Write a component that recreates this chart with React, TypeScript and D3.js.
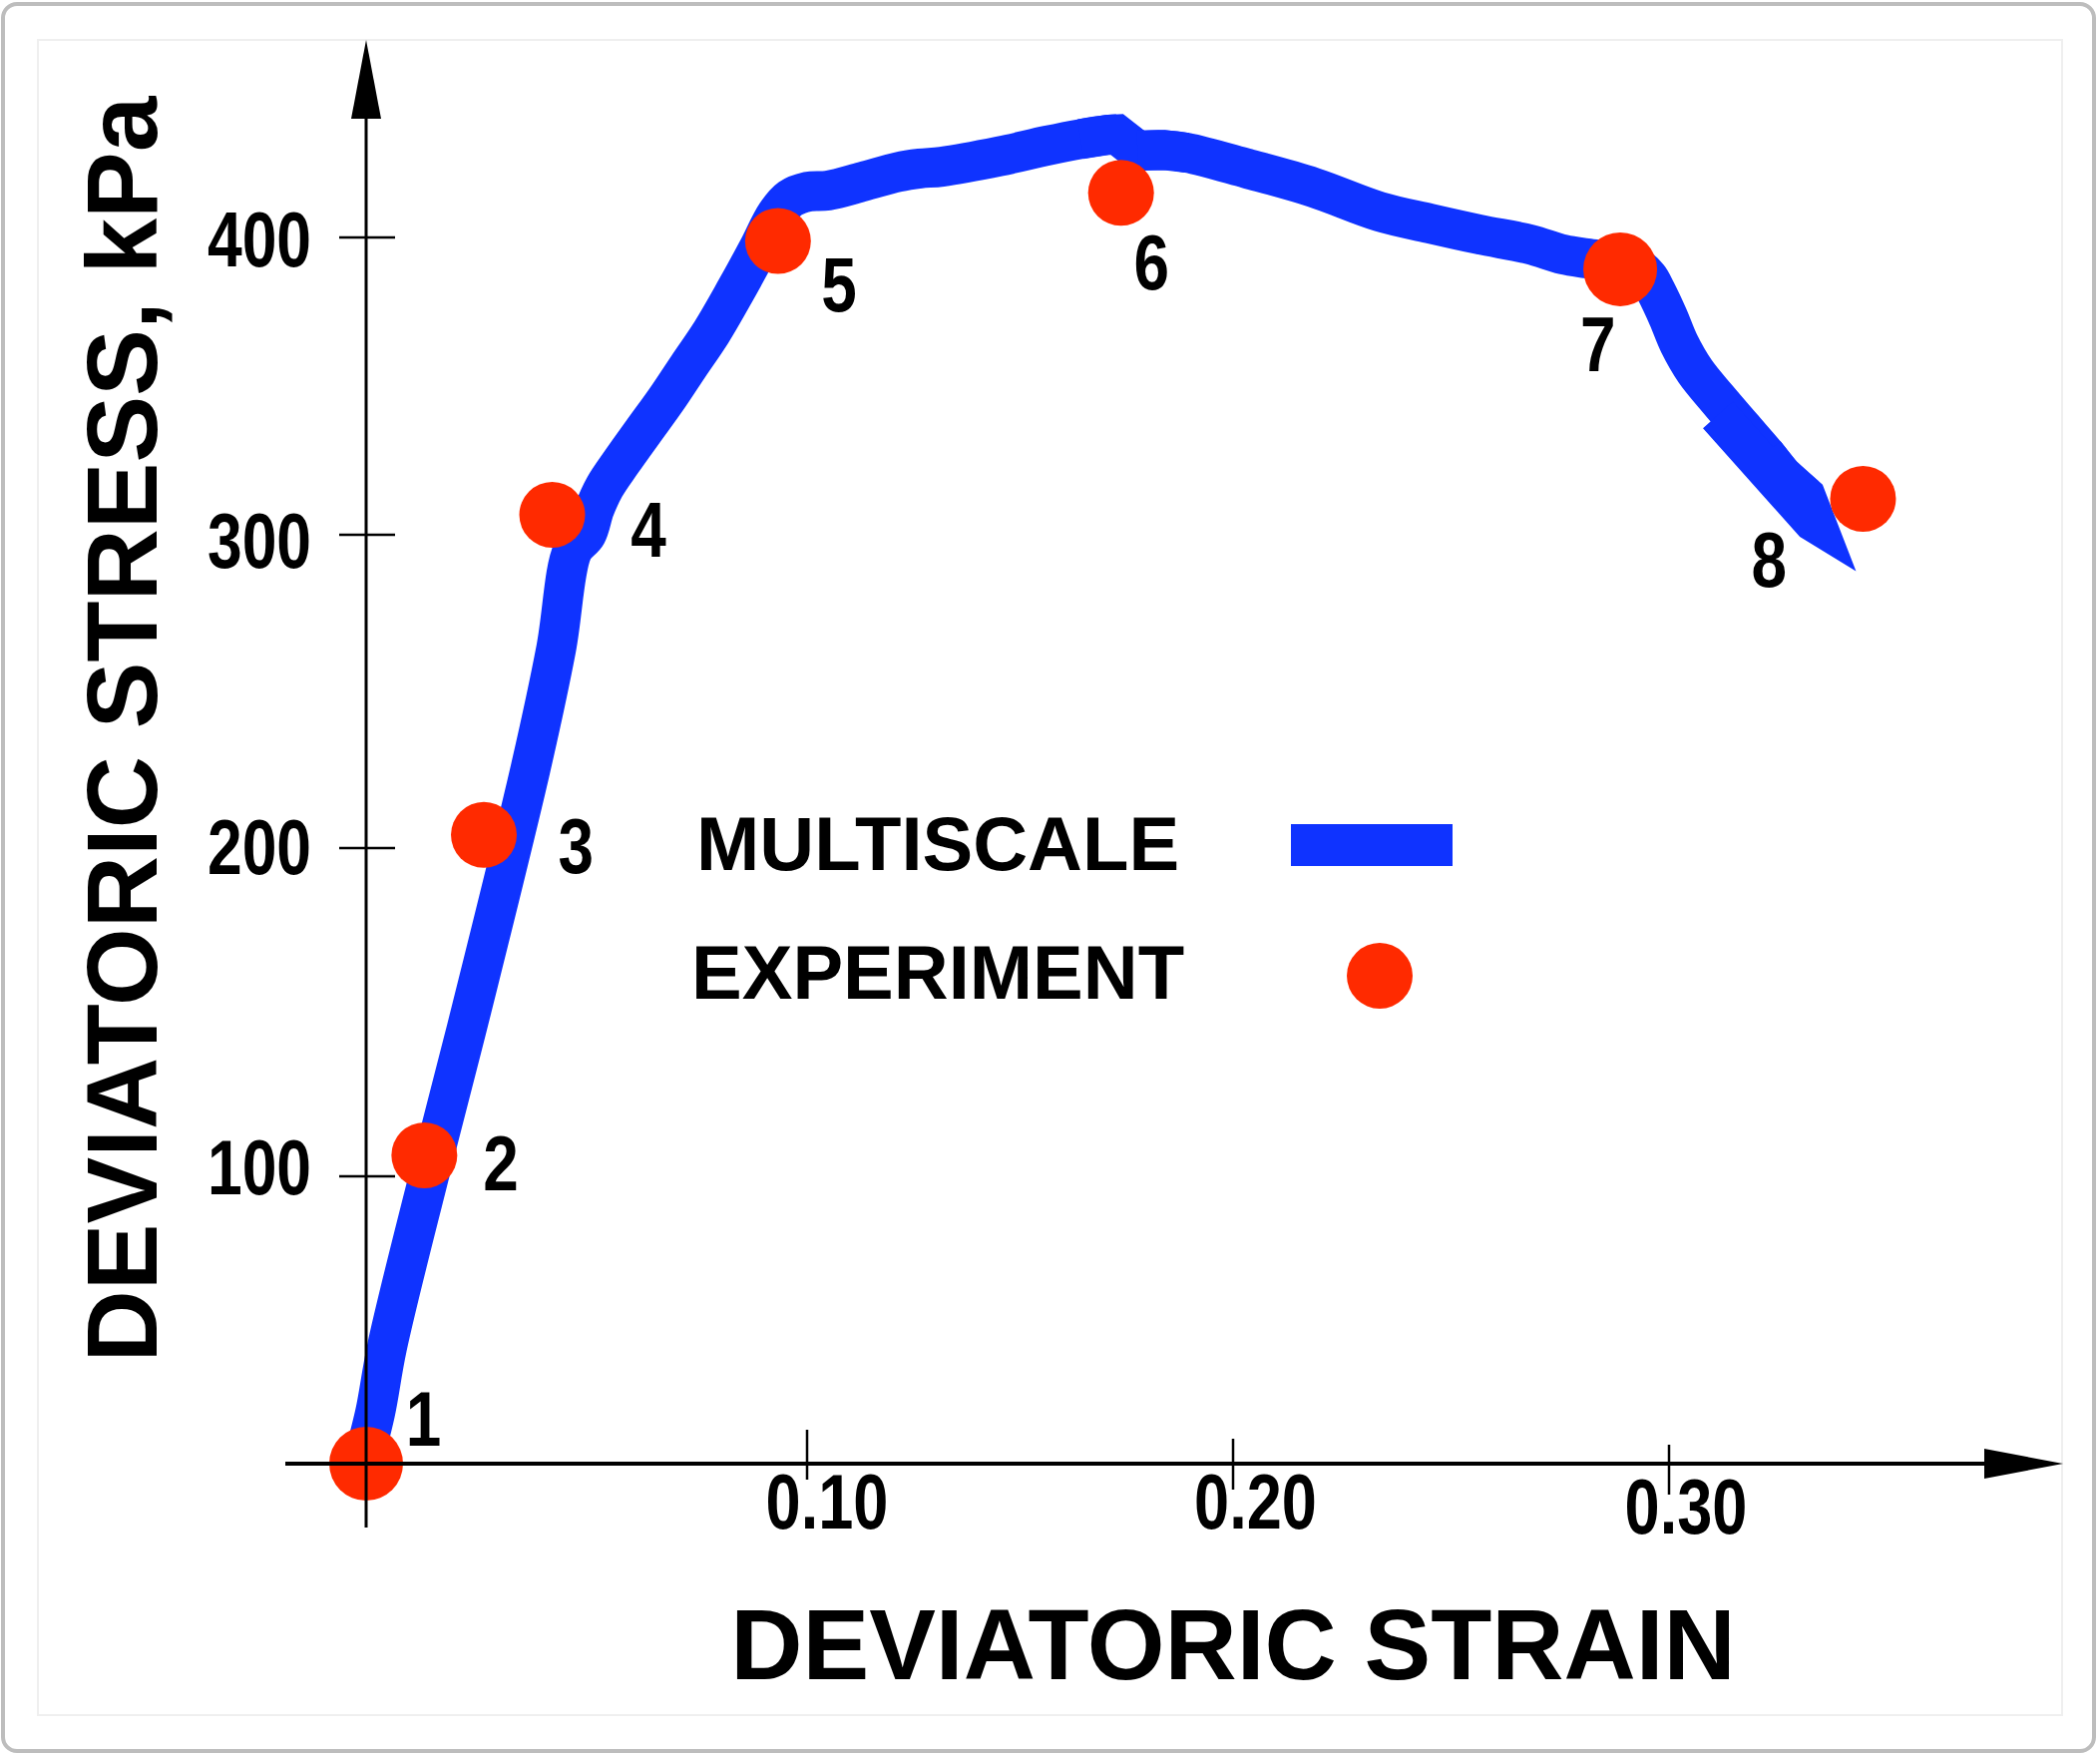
import React from "react";
import * as d3 from "d3";

// ---------- data ----------
const curveStrain = [
  -0.0011, 0.002, 0.00475, 0.014, 0.0217, 0.024, 0.0373, 0.0431, 0.0468, 0.05,
  0.0518, 0.0541, 0.0579, 0.0629, 0.0681, 0.0731, 0.0783, 0.0837, 0.0889, 0.093,
  0.0962, 0.1002, 0.1049, 0.1131, 0.1213, 0.1265, 0.1316, 0.1452, 0.1564, 0.1642,
  0.1705, 0.1727, 0.1776, 0.1838, 0.1892, 0.2032, 0.2185, 0.2336, 0.2451, 0.2565,
  0.268, 0.2757, 0.281, 0.2867, 0.292, 0.2952, 0.297, 0.2998, 0.3023, 0.306,
  0.3112, 0.3167, 0.322, 0.3261, 0.33135, 0.33375, 0.33297, 0.3112,
];
const curveStress = [
  -1.0, 17.4, 40.6, 98.6, 139.2, 151.4, 225.5, 263.7, 294.9, 300.3,
  308.7, 316.1, 324.5, 334.9, 345.6, 356.7, 368.1, 381.9, 396.0, 407.7,
  413.1, 415.4, 415.8, 418.8, 422.0, 423.2, 423.8, 427.3, 430.9, 433.1,
  434.5, 434.7, 429.2, 429.4, 428.5, 423.2, 416.8, 408.7, 404.7, 401.0,
  397.7, 394.3, 393.0, 391.9, 390.6, 386.6, 381.9, 373.2, 364.4, 355.0,
  345.6, 336.2, 327.2, 319.8, 312.9, 303.8, 304.5, 340.3,
];

const expStrain = [0, 0.0132, 0.0267, 0.0422, 0.0934, 0.1737, 0.2888, 0.3445];
const expStress = [0, 106.4, 204.2, 306.7, 398.8, 415.0, 389.3, 312.1];
const expLabels = ["1", "2", "3", "4", "5", "6", "7", "8"];

const xKnots = [0, 0.1, 0.2, 0.3];
const yKnots = [0, 100, 200, 300, 400];
const xTicks = [0.1, 0.2, 0.3];
const xTickLabels = ["0.10", "0.20", "0.30"];
const yTicks = [100, 200, 300, 400];
const yTickLabels = ["100", "200", "300", "400"];

const legendLabels = ["MULTISCALE", "EXPERIMENT"];
const xTitle = "DEVIATORIC STRAIN";
const yTitle = "DEVIATORIC STRESS, kPa";

// ---------- layout / style ----------
const W = 2105;
const H = 1760;
const X_RANGE = [367, 809, 1236, 1673];
const Y_RANGE = [1467, 1179, 850, 536, 238];
const BLUE = "#0f33ff";
const RED = "#ff2a00";
const FONT = "'Liberation Sans', Arial, Helvetica, sans-serif";
const LINE_W = 40;
const dotRadius = [37, 33, 33, 33, 33, 33, 37, 33];
const labelOffset: [number, number][] = [
  [57.6, -18], [76.6, 35], [92.2, 38.3], [96.4, 42.1],
  [61.3, 70.3], [30.5, 96.7], [-22.2, 102], [-94.3, 88],
];
const yLabelDy = [17.8, 25.5, 32.5, 29];
const xLabelDx = [20, 22.5, 17];
const xLabelDy = [65, 65, 70];
const xTickExtent: [number, number][] = [[-34, 16], [-25, 26], [-19, 31]];
// pieces of the model curve: smooth runs and sharp (hand-drawn) corners
const pieces: { from: number; to: number; smooth: boolean }[] = [
  { from: 0, to: 31, smooth: true },
  { from: 29, to: 34, smooth: false },
  { from: 32, to: 54, smooth: true },
  { from: 52, to: 57, smooth: false },
];

export default function App() {
  const x = d3.scaleLinear().domain(xKnots).range(X_RANGE);
  const y = d3.scaleLinear().domain(yKnots).range(Y_RANGE);
  const pts: [number, number][] = curveStrain.map((s, i) => [s, curveStress[i]]);
  const smoothLine = d3
    .line<[number, number]>()
    .x((d) => x(d[0]))
    .y((d) => y(d[1]))
    .curve(d3.curveCatmullRom.alpha(0.5));
  const sharpLine = d3
    .line<[number, number]>()
    .x((d) => x(d[0]))
    .y((d) => y(d[1]))
    .curve(d3.curveLinear);

  const x0 = x(0);
  const y0 = y(0);

  return (
    <svg
      width={W}
      height={H}
      viewBox={`0 0 ${W} ${H}`}
      style={{ position: "absolute", left: 0, top: 0, display: "block" }}
      fontFamily={FONT}
    >
      <rect x={0} y={0} width={W} height={H} fill="#ffffff" />
      {/* outer frame */}
      <rect x={3} y={4} width={2096} height={1751} rx={14} fill="#ffffff" stroke="#bdbdbd" strokeWidth={4} />
      {/* inner panel */}
      <rect x={38} y={40} width={2029} height={1679} fill="none" stroke="#efefef" strokeWidth={2} />

      {/* model curve */}
      {pieces.map((p, i) => (
        <path
          key={"c" + i}
          d={(p.smooth ? smoothLine : sharpLine)(pts.slice(p.from, p.to + 1)) || ""}
          fill="none"
          stroke={BLUE}
          strokeWidth={LINE_W}
          strokeLinejoin="miter"
          strokeMiterlimit={5}
          strokeLinecap="butt"
        />
      ))}

      {/* experiment dots */}
      {expStrain.map((s, i) => (
        <circle key={"d" + i} cx={x(s)} cy={y(expStress[i])} r={dotRadius[i]} fill={RED} />
      ))}

      {/* point labels */}
      {expLabels.map((t, i) => (
        <text
          key={"l" + i}
          transform={`translate(${x(expStrain[i]) + labelOffset[i][0]},${y(expStress[i]) + labelOffset[i][1]}) scale(0.83,1)`}
          textAnchor="middle"
          fontSize={77}
          fontWeight="bold"
          fill="#000"
        >
          {t}
        </text>
      ))}

      {/* y axis */}
      <line x1={x0} x2={x0} y1={1531} y2={110} stroke="#000" strokeWidth={3} />
      <path d={`M${x0},40 L${x0 - 15},119 L${x0 + 15},119 Z`} fill="#000" />
      {yTicks.map((v, i) => (
        <g key={"yt" + i}>
          <line x1={x0 - 27} x2={x0 + 29} y1={y(v)} y2={y(v)} stroke="#000" strokeWidth={2.5} />
          <text
            transform={`translate(312,${y(v) + yLabelDy[i]}) scale(0.81,1)`}
            textAnchor="end"
            fontSize={77}
            fontWeight="bold"
            fill="#000"
          >
            {yTickLabels[i]}
          </text>
        </g>
      ))}

      {/* x axis */}
      <line x1={286} x2={1992} y1={y0} y2={y0} stroke="#000" strokeWidth={4} />
      <path d={`M2068,${y0} L1989,${y0 - 15} L1989,${y0 + 15} Z`} fill="#000" />
      {xTicks.map((v, i) => (
        <g key={"xt" + i}>
          <text
            transform={`translate(${x(v) + xLabelDx[i]},${y0 + xLabelDy[i]}) scale(0.82,1)`}
            textAnchor="middle"
            fontSize={77}
            fontWeight="bold"
            fill="#000"
          >
            {xTickLabels[i]}
          </text>
          <line x1={x(v)} x2={x(v)} y1={y0 + xTickExtent[i][0]} y2={y0 + xTickExtent[i][1]} stroke="#000" strokeWidth={2.5} />
        </g>
      ))}

      {/* axis titles */}
      <text x={1236} y={1683} textAnchor="middle" fontSize={100} fontWeight="bold" fill="#000">
        {xTitle}
      </text>
      <text
        transform={`translate(157,731) rotate(-90)`}
        textAnchor="middle"
        fontSize={100}
        fontWeight="bold"
        fill="#000"
      >
        {yTitle}
      </text>

      {/* legend */}
      <text x={698} y={872} fontSize={76} fontWeight="bold" fill="#000">
        {legendLabels[0]}
      </text>
      <rect x={1294} y={826} width={162} height={42} fill={BLUE} />
      <text x={693} y={1001} fontSize={76} fontWeight="bold" fill="#000">
        {legendLabels[1]}
      </text>
      <circle cx={1383} cy={978} r={33} fill={RED} />
    </svg>
  );
}
